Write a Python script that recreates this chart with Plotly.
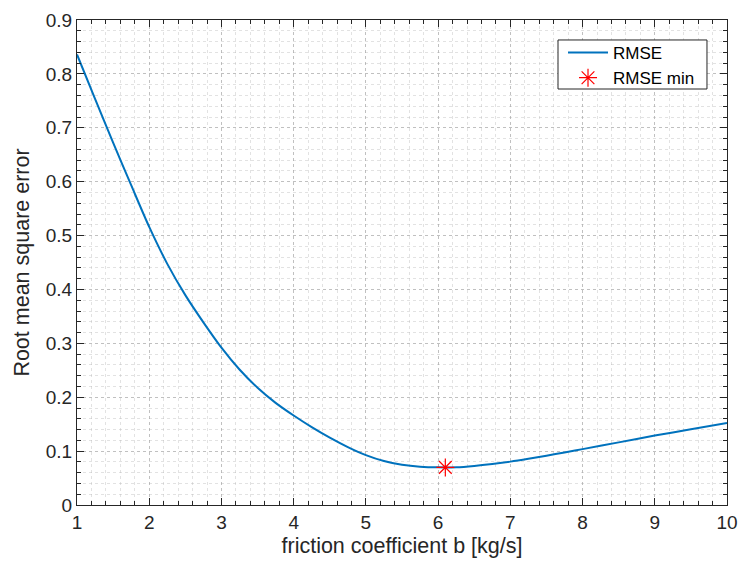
import plotly.graph_objects as go

b_vals = [1.0, 1.25, 1.5, 1.75, 2.0, 2.25, 2.5, 2.75, 3.0, 3.25, 3.5, 3.75, 4.0, 4.25, 4.5,
          4.75, 5.0, 5.25, 5.5, 5.75, 6.0, 6.25, 6.5, 6.75, 7.0, 7.25, 7.5, 7.75, 8.0,
          8.5, 9.0, 9.5, 10.0]
rmse_vals = [0.836, 0.7535, 0.6725, 0.5935, 0.516, 0.4475, 0.3895, 0.339, 0.292, 0.2515, 0.2175,
             0.1895, 0.1660, 0.1445, 0.1250, 0.1075, 0.0925, 0.0815, 0.0748, 0.0712, 0.0699,
             0.0701, 0.0726, 0.0762, 0.0805, 0.0858, 0.0916, 0.0976, 0.1037, 0.1162, 0.1288,
             0.1405, 0.152]
b_min = [6.1]
rmse_min = [0.0698]

x_ticks = [1, 2, 3, 4, 5, 6, 7, 8, 9, 10]
y_ticks = [0, 0.1, 0.2, 0.3, 0.4, 0.5, 0.6, 0.7, 0.8, 0.9]
y_tick_labels = ["0", "0.1", "0.2", "0.3", "0.4", "0.5", "0.6", "0.7", "0.8", "0.9"]

FONT = "Liberation Sans, Arial, Helvetica, sans-serif"

fig = go.Figure()
fig.add_trace(go.Scatter(x=b_vals, y=rmse_vals, mode="lines", name="RMSE",
                         line=dict(color="#0072BD", width=2, shape="spline", smoothing=0.8)))
fig.add_trace(go.Scatter(x=b_min, y=rmse_min, mode="markers", name="RMSE min",
                         marker=dict(symbol="asterisk-open", size=15, color="#FF0000",
                                     line=dict(color="#FF0000", width=1.2))))

axis_common = dict(
    showline=True, linecolor="#262626", linewidth=1, mirror="ticks",
    ticks="inside", ticklen=7, tickcolor="#262626",
    showgrid=True, gridcolor="rgba(150,150,150,0.45)", griddash="dot", gridwidth=1,
    zeroline=False, automargin=False, ticklabeloverflow="allow",
    tickfont=dict(family=FONT, size=19, color="#262626"),
    title_font=dict(family=FONT, size=21.5, color="#262626"),
)
minor_common = dict(ticks="inside", ticklen=4, tickcolor="#262626",
                    showgrid=True, gridcolor="rgba(180,180,180,0.38)", griddash="dot")

fig.update_xaxes(range=[1, 10], tickvals=x_ticks, title_text="friction coefficient b [kg/s]",
                 title_standoff=6, minor=dict(dtick=0.2, **minor_common), **axis_common)
fig.update_yaxes(range=[0, 0.9], tickvals=y_ticks, ticktext=y_tick_labels,
                 title_text="Root mean square error", title_standoff=10,
                 minor=dict(dtick=0.02, **minor_common), **axis_common)

# legend frame (MATLAB-like compact box)
fig.add_shape(type="rect", xref="paper", yref="paper",
              x0=0.74, x1=0.9692, y0=0.8577, y1=0.9588,
              line=dict(color="#262626", width=1), fillcolor="white", layer="above")

fig.update_layout(
    template="none",
    width=740, height=563,
    margin=dict(l=77, r=13, t=20, b=58, autoexpand=False),
    paper_bgcolor="white", plot_bgcolor="white",
    font=dict(family=FONT, color="#262626"),
    legend=dict(x=0.7477, y=0.969, xanchor="left", yanchor="top",
                bgcolor="rgba(0,0,0,0)", borderwidth=0,
                font=dict(family=FONT, size=17, color="#000000"),
                itemwidth=40, tracegroupgap=0),
    showlegend=True,
)

fig.write_html("out.html", config={"displayModeBar": False},
               post_script="document.body.style.margin='0';document.body.style.overflow='hidden';")
